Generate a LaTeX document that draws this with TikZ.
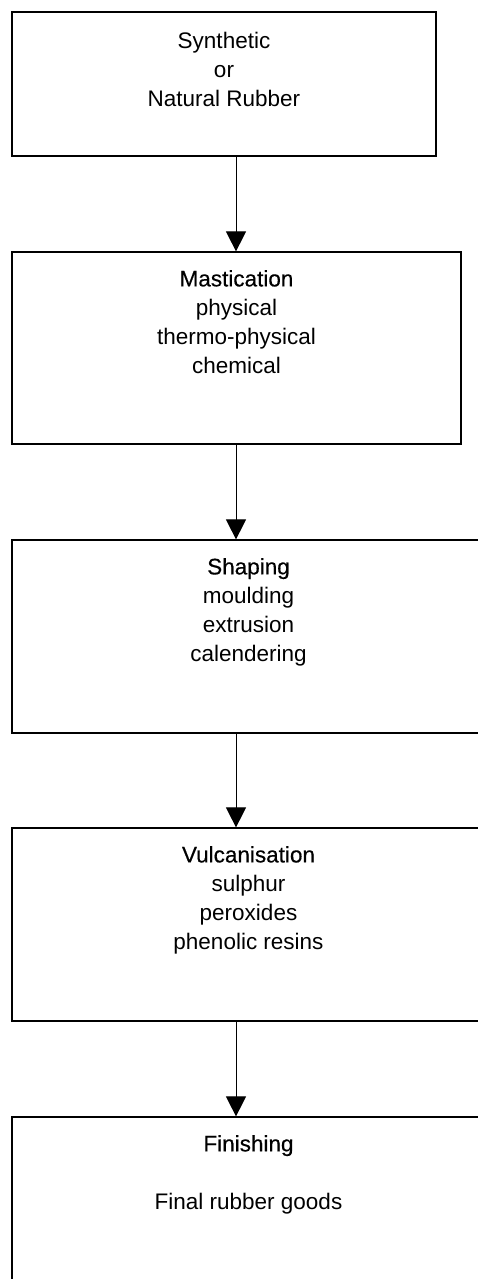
\documentclass[tikz,border=0pt]{standalone}
\usepackage{fontspec}
\setmainfont{Liberation Sans}
\newfontfamily\headfont[FakeBold=0.4]{Liberation Sans}
\usetikzlibrary{positioning,arrows.meta}

\begin{document}
\begin{tikzpicture}[x=1pt, y=-1pt,
    box/.style={draw, line width=1.2pt, inner sep=0pt},
    boxtext/.style={align=center, inner sep=0pt, font=\fontsize{22.5}{29}\selectfont},
    arr/.style={line width=1pt, -{Triangle[width=20pt, length=20pt]}}]

    \clip (0,0) rectangle (478,1279);

    % Nodes
    \node[box, minimum width=424pt, minimum height=144pt] (rubber) at (224, 84) {};
    \node[boxtext, below=21pt of rubber.north] (rubbertext) {Synthetic\\or\\Natural Rubber};

    \node[box, minimum width=449pt, minimum height=192pt] (mastication) at (236.5, 348) {};
    \node[boxtext, below=18.5pt of mastication.north] (masticationtext) {{\headfont Mastication}\\physical\\thermo-physical\\chemical};

    \node[box, minimum width=473pt, minimum height=193pt] (shaping) at (248.5, 636.5) {};
    \node[boxtext, below=18.5pt of shaping.north] (shapingtext) {{\headfont Shaping}\\moulding\\extrusion\\calendering};

    \node[box, minimum width=473pt, minimum height=193pt] (vulcan) at (248.5, 924.5) {};
    \node[boxtext, below=18.5pt of vulcan.north] (vulcantext) {{\headfont Vulcanisation}\\sulphur\\peroxides\\phenolic resins};

    \node[box, minimum width=473pt, minimum height=193pt] (finishing) at (248.5, 1213.5) {};
    \node[boxtext, below=18.5pt of finishing.north] (finishingtext) {{\headfont Finishing}\\[29pt]Final rubber goods};

    \coordinate (axis) at (236, 0);

    % Lines
    \draw[arr] (rubber.south -| axis) -- (mastication.north -| axis);
    \draw[arr] (mastication.south -| axis) -- (shaping.north -| axis);
    \draw[arr] (shaping.south -| axis) -- (vulcan.north -| axis);
    \draw[arr] (vulcan.south -| axis) -- (finishing.north -| axis);

\end{tikzpicture}
\end{document}
